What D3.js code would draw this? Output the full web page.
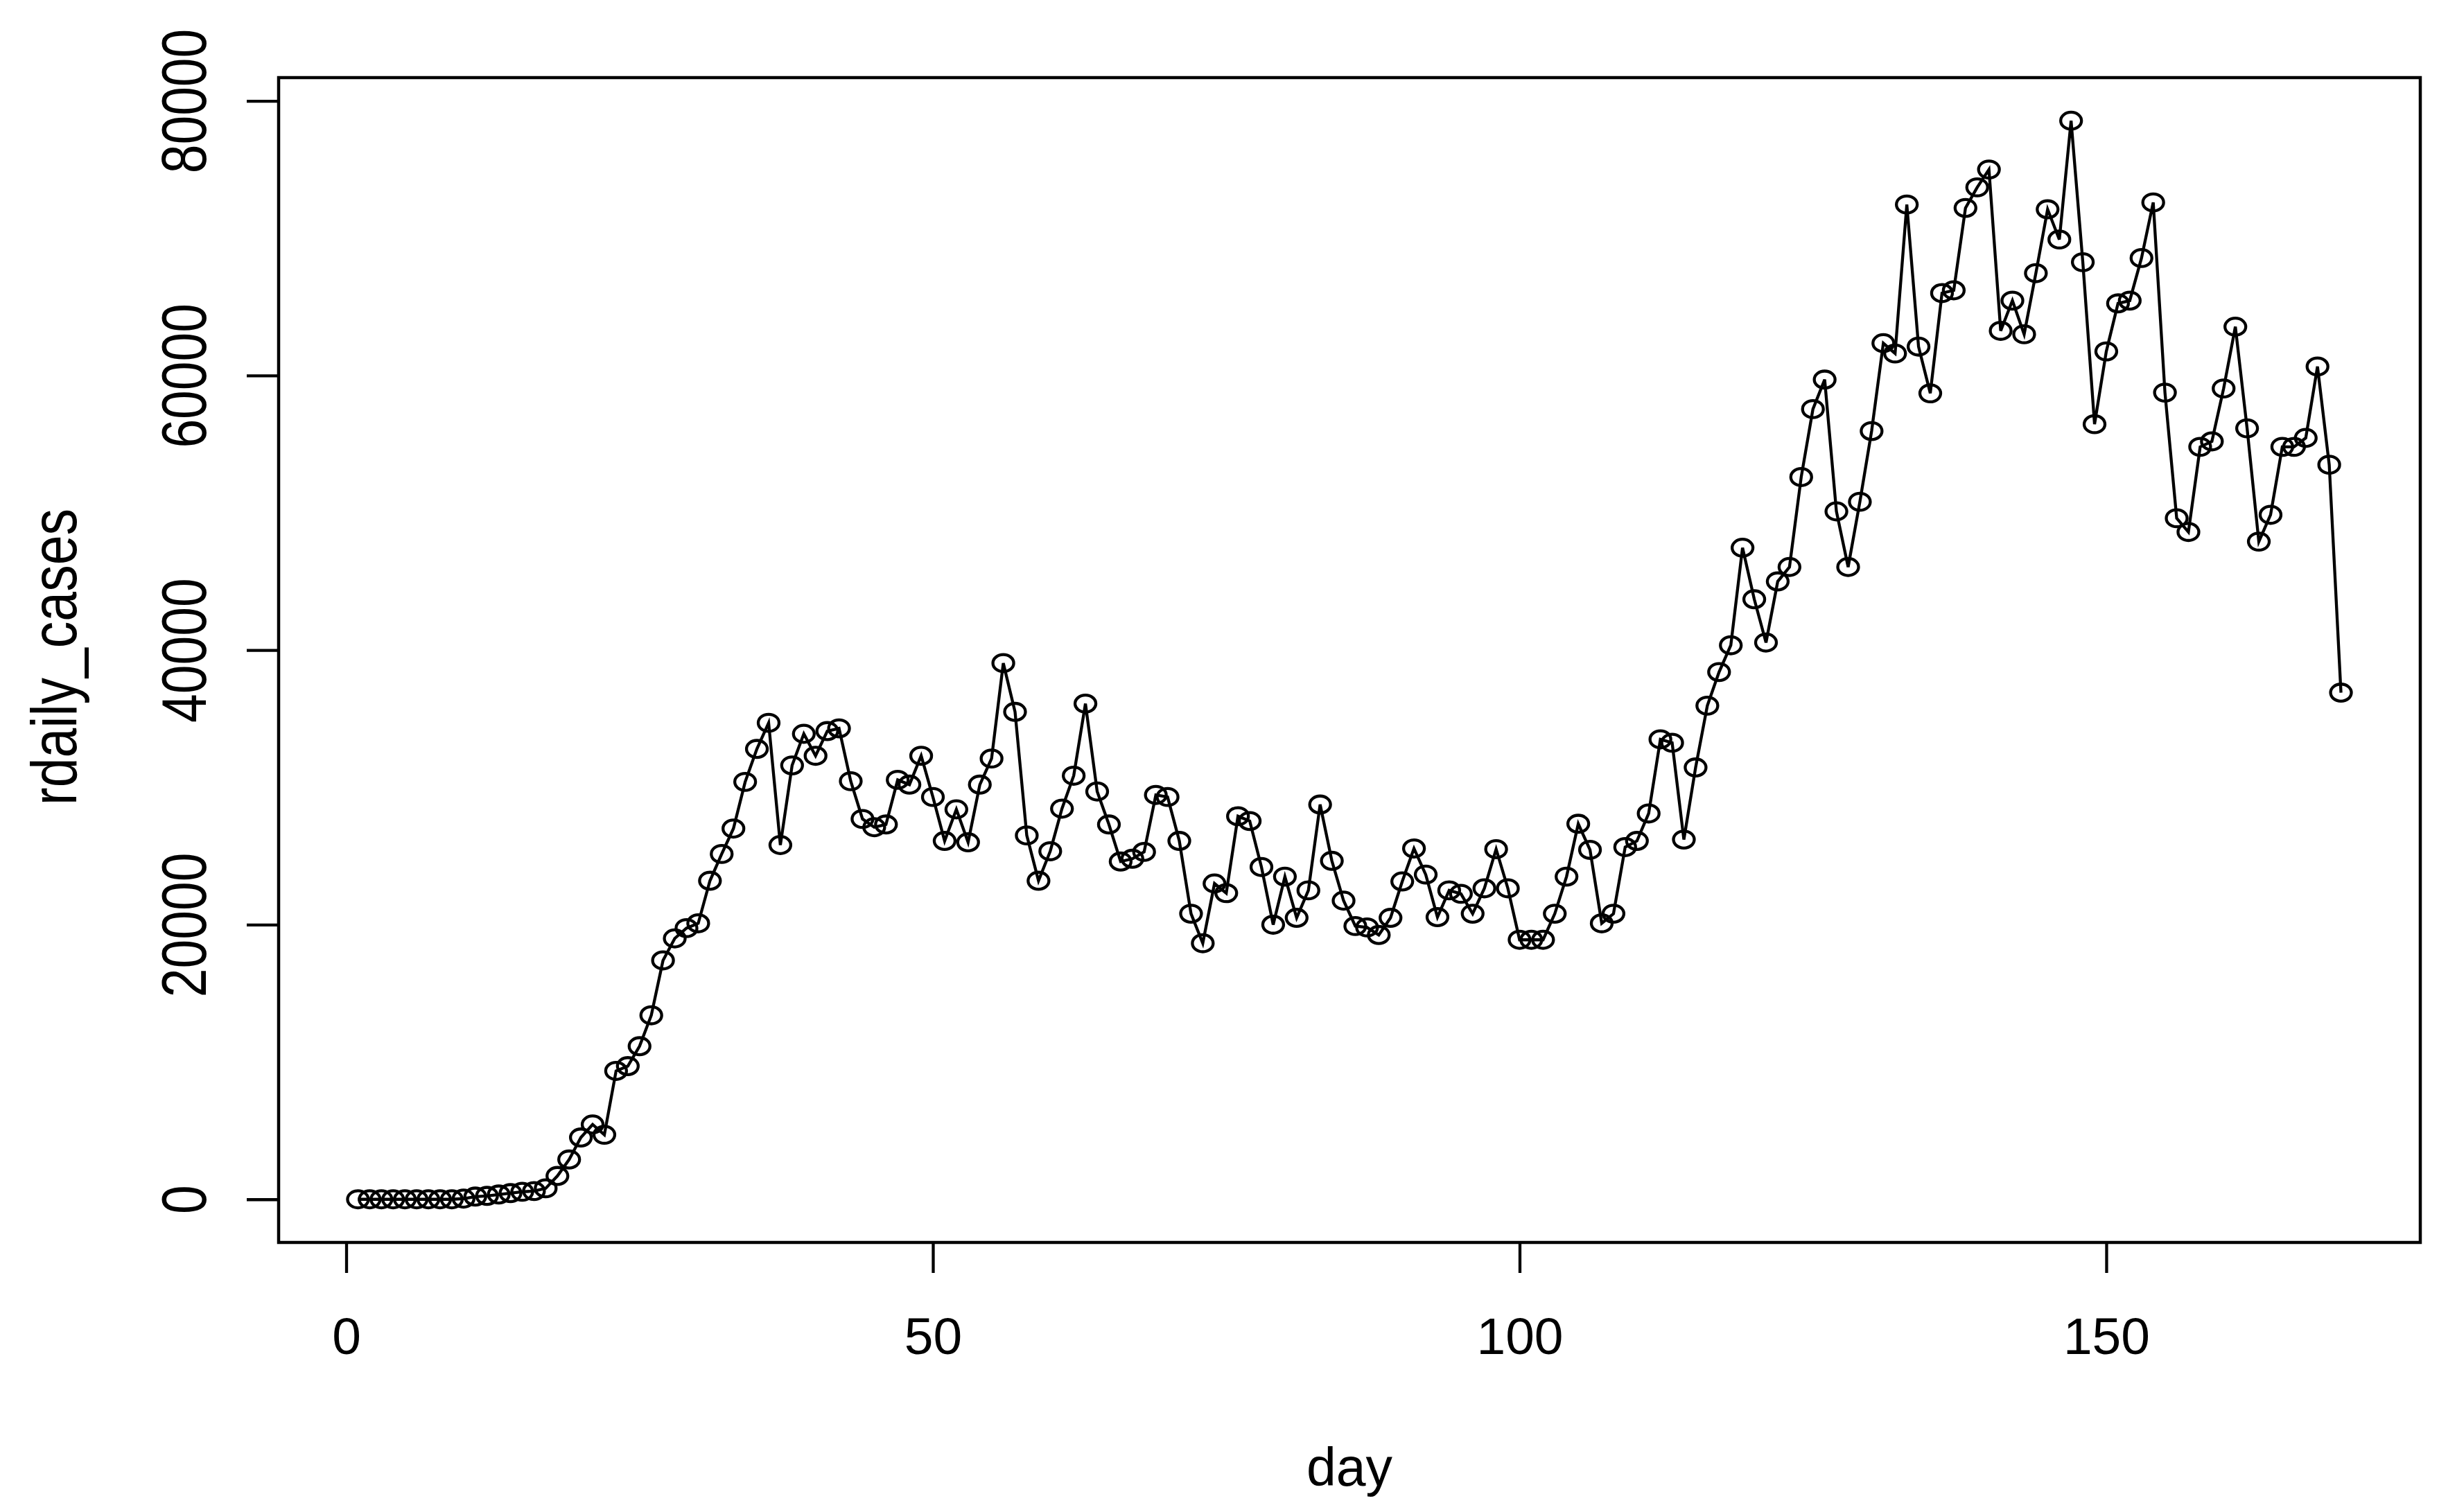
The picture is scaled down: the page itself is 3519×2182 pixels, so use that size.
<!DOCTYPE html>
<html>
<head>
<meta charset="utf-8">
<script src="https://cdn.jsdelivr.net/npm/d3@7"></script>
<style>
  body { margin: 0; background: white; }
  text { font-family: "Liberation Sans", Arial, sans-serif; fill: black; }
</style>
</head>
<body>
<div class="plot"></div>
<script>
// daily cases, one per day starting at day 1
const cases = [
    0, 0, 0, 0, 0, 0, 0, 0, 0, 50,
    200, 250, 350, 450, 550, 600, 800, 1700, 2900, 4500,
    5450, 4700, 9350, 9700, 11150, 13400, 17400, 19000, 19750, 20100,
    23200, 25150, 27000, 30400, 32800, 34700, 25800, 31600, 33900, 32300,
    34100, 34300, 30450, 27700, 27100, 27300, 30550, 30200, 32300, 29300,
    26100, 28400, 26000, 30200, 32100, 39050, 35500, 26500, 23200, 25350,
    28450, 30850, 36100, 29700, 27300, 24600, 24800, 25300, 29450, 29300,
    26100, 20800, 18650, 23000, 22300, 27900, 27550, 24200, 20000, 23500,
    20500, 22500, 28750, 24650, 21750, 19900, 19800, 19250, 20500, 23150,
    25550, 23650, 20550, 22500, 22250, 20800, 22650, 25500, 22650, 18900,
    18900, 18900, 20800, 23500, 27350, 25450, 20100, 20800, 25650, 26100,
    28100, 33500, 33250, 26200, 31450, 35950, 38400, 40350, 47450, 43700,
    40550, 45000, 46050, 52600, 57550, 59700, 50100, 46050, 50800, 55950,
    62350, 61600, 72450, 62100, 58700, 66000, 66200, 72200, 73700, 75000,
    63250, 65450, 63000, 67450, 72100, 69900, 78550, 68250, 56450, 61750,
    65250, 65450, 68550, 72600, 58750, 49600, 48600, 54800, 55200, 59050,
    63550, 56150, 47900, 49850, 54800, 54800, 55450, 60650, 53500, 36900
];
const days = d3.range(1, cases.length + 1);

const xTicks = [0, 50, 100, 150];
const yTicks = [0, 20000, 40000, 60000, 80000];

const data = days.map((d, i) => ({day: d, cases: cases[i]}));

// margin convention (R style plot box)
const margin = ({top: 112, right: 27, bottom: 389, left: 402});
const width = 3519 - margin.left - margin.right;
const height = 2182 - margin.top - margin.bottom;

const svg = d3.select(".plot")
    .append("svg")
    .attr("width", 3519)
    .attr("height", 2182)
    .append("g")
    .attr("transform", "translate(" + margin.left + "," + margin.top + ")");

// R pads the data range by 4% each side
const pad = ([a, b]) => [a - (b - a) * 0.04, b + (b - a) * 0.04];

const xScale = d3.scaleLinear()
    .domain(pad(d3.extent(days)))
    .range([0, width]);

const yScale = d3.scaleLinear()
    .domain(pad(d3.extent(cases)))
    .range([height, 0]);

const line = d3.line()
    .x(d => xScale(d.day))
    .y(d => yScale(d.cases));

svg.append("path")
    .datum(data)
    .attr("fill", "none")
    .attr("stroke", "black")
    .attr("stroke-width", 4.3)
    .attr("d", line);

svg.selectAll("ellipse")
    .data(data)
    .enter()
    .append("ellipse")
    .attr("cx", d => xScale(d.day))
    .attr("cy", d => yScale(d.cases))
    .attr("rx", 15)
    .attr("ry", 12.3)
    .attr("fill", "none")
    .attr("stroke", "black")
    .attr("stroke-width", 4.3);

// box
svg.append("rect")
    .attr("x", 0)
    .attr("y", 0)
    .attr("width", width)
    .attr("height", height)
    .attr("fill", "none")
    .attr("stroke", "black")
    .attr("stroke-width", 4.5);

// axes
const xAxis = d3.axisBottom(xScale)
    .tickValues(xTicks)
    .tickSize(44)
    .tickPadding(64)
    .tickFormat(d3.format("d"));

const yAxis = d3.axisLeft(yScale)
    .tickValues(yTicks)
    .tickSize(46)
    .tickFormat(d3.format("d"));

let xAxisGroup = svg.append("g")
    .attr("class", "axis x-axis")
    .attr("transform", `translate(0, ${height})`)
    .call(xAxis);

let yAxisGroup = svg.append("g")
    .attr("class", "axis y-axis")
    .call(yAxis);

svg.selectAll(".axis .domain").remove();
svg.selectAll(".axis line").attr("stroke", "black").attr("stroke-width", 4.3);
svg.selectAll(".axis text")
    .attr("font-family", "Liberation Sans, Arial, sans-serif")
    .attr("font-size", 75)
    .attr("fill", "black");

yAxisGroup.selectAll("text")
    .attr("x", null)
    .attr("dy", null)
    .attr("text-anchor", "middle")
    .attr("transform", "translate(-105,0) scale(1.2,1) rotate(-90)");

// labels
svg.append("text")
    .attr("class", "xlabel")
    .attr("x", width / 2)
    .attr("y", 2144 - margin.top)
    .attr("text-anchor", "middle")
    .attr("font-size", 77)
    .text("day");

svg.append("text")
    .attr("class", "ylabel")
    .attr("text-anchor", "middle")
    .attr("font-size", 77)
    .attr("transform", `translate(${110 - margin.left}, ${948 - margin.top}) scale(1.2,1) rotate(-90)`)
    .text("rdaily_cases");
</script>
</body>
</html>
